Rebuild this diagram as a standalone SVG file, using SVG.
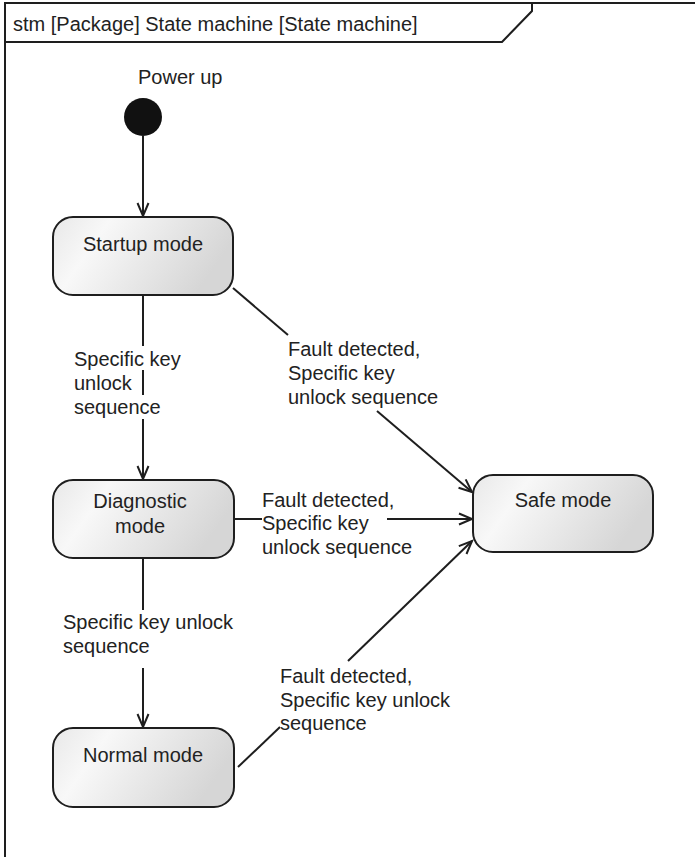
<svg xmlns="http://www.w3.org/2000/svg" width="695" height="857" viewBox="0 0 695 857">
<style>
  text { font-family: "Liberation Sans", Arial, sans-serif; font-size: 20px; fill: #222; }
  .node { fill: url(#g); stroke: #1e1e1e; stroke-width: 2; }
  .edge { fill: none; stroke: #1e1e1e; stroke-width: 2; }
  .frame { fill: none; stroke: #1e1e1e; stroke-width: 2; }
  .c { text-anchor: middle; }
</style>
<defs>
  <linearGradient id="g" x1="0" y1="0" x2="1" y2="0.3">
    <stop offset="0" stop-color="#e8e8e8"/>
    <stop offset="0.3" stop-color="#f8f8f8"/>
    <stop offset="1" stop-color="#d6d6d6"/>
  </linearGradient>
  <marker id="arr" markerUnits="userSpaceOnUse" markerWidth="30" markerHeight="30" refX="0" refY="0" orient="auto" overflow="visible">
    <path d="M -13 -5.5 L 0 0 L -13 5.5" fill="none" stroke="#1e1e1e" stroke-width="2"/>
  </marker>
</defs>
<rect width="695" height="857" fill="#ffffff"/>

<g id="frame">
  <path class="frame" d="M 5 857 L 5 3 L 695 3"/>
  <path class="frame" d="M 5 42 L 502 42 L 532 11 L 532 3"/>
  <text x="13" y="31">stm [Package] State machine [State machine]</text>
</g>

<g id="connectors">
  <line class="edge" x1="143" y1="136" x2="143" y2="216" marker-end="url(#arr)"/>
  <line class="edge" x1="143" y1="295" x2="143" y2="346"/>
  <line class="edge" x1="143" y1="370" x2="143" y2="395"/>
  <line class="edge" x1="143" y1="419" x2="143" y2="479" marker-end="url(#arr)"/>
  <line class="edge" x1="143" y1="558" x2="143" y2="610"/>
  <line class="edge" x1="143" y1="668" x2="143" y2="727" marker-end="url(#arr)"/>
  <line class="edge" x1="233" y1="288" x2="288" y2="335"/>
  <line class="edge" x1="377" y1="411" x2="472" y2="492" marker-end="url(#arr)"/>
  <line class="edge" x1="234" y1="519" x2="262" y2="519"/>
  <line class="edge" x1="387" y1="519" x2="472" y2="519" marker-end="url(#arr)"/>
  <line class="edge" x1="238" y1="767" x2="280" y2="727"/>
  <line class="edge" x1="348" y1="661" x2="472" y2="541" marker-end="url(#arr)"/>
</g>

<g id="labels">
  <text x="74" y="366">Specific key</text>
  <text x="74" y="390">unlock</text>
  <text x="74" y="414">sequence</text>
  <text x="288" y="356">Fault detected,</text>
  <text x="288" y="380">Specific key</text>
  <text x="288" y="404">unlock sequence</text>
  <text x="262" y="507">Fault detected,</text>
  <text x="262" y="530">Specific key</text>
  <text x="262" y="554">unlock sequence</text>
  <text x="63" y="629">Specific key unlock</text>
  <text x="63" y="653">sequence</text>
  <text x="280" y="683">Fault detected,</text>
  <text x="280" y="707">Specific key unlock</text>
  <text x="280" y="730">sequence</text>
</g>

<g id="initial">
  <circle cx="143" cy="117" r="19" fill="#111"/>
  <text x="138" y="84">Power up</text>
</g>

<g id="startup">
  <rect class="node" x="53" y="217" width="180" height="78" rx="20" ry="20"/>
  <text class="c" x="143" y="251">Startup mode</text>
</g>

<g id="diagnostic">
  <rect class="node" x="53" y="480" width="181" height="78" rx="20" ry="20"/>
  <text class="c" x="140" y="508">Diagnostic</text>
  <text class="c" x="140" y="533">mode</text>
</g>

<g id="normal">
  <rect class="node" x="53" y="728" width="181" height="79" rx="20" ry="20"/>
  <text class="c" x="143" y="762">Normal mode</text>
</g>

<g id="safe">
  <rect class="node" x="473" y="475" width="180" height="77" rx="20" ry="20"/>
  <text class="c" x="563" y="507">Safe mode</text>
</g>
</svg>
